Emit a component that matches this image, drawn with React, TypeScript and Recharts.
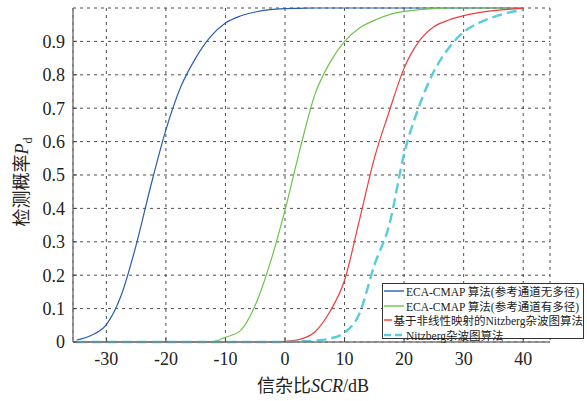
import React from 'react'
import { LineChart, Line, XAxis, YAxis, CartesianGrid, Legend } from 'recharts'

// 信杂比 SCR (dB)
const scr = [
  -35, -32.5, -30, -27.5, -25, -22.5, -20, -17.5, -15, -12.5, -10, -7.5, -5, -2.5, 0, 2.5,
  5, 7.5, 10, 12.5, 15, 17.5, 20, 22.5, 25, 27.5, 30, 32.5, 35, 37.5, 40,
]

// ECA-CMAP 算法(参考通道无多径)
const ecaNoMultipath = [
  0.006, 0.02, 0.052, 0.14, 0.29, 0.47, 0.635, 0.764, 0.85, 0.914, 0.955, 0.976, 0.988, 0.995, 0.998, 0.999,
  1, 1, 1, 1, 1, 1, 1, 1, 1, 1, 1, 1, 1, 1, 1,
]

// ECA-CMAP 算法(参考通道有多径)
const ecaMultipath = [
  0, 0, 0, 0, 0, 0, 0, 0, 0, 0, 0.014, 0.034, 0.11, 0.236, 0.395, 0.576,
  0.74, 0.835, 0.9, 0.94, 0.963, 0.98, 0.99, 0.995, 0.998, 1, 1, 1, 1, 1, 1,
]

// 基于非线性映射的Nitzberg杂波图算法
const nonlinearNitzberg = [
  0, 0, 0, 0, 0, 0, 0, 0, 0, 0, 0, 0, 0, 0, 0.002, 0.008,
  0.03, 0.09, 0.185, 0.365, 0.55, 0.69, 0.82, 0.9, 0.944, 0.964, 0.977, 0.986, 0.992, 0.996, 0.999,
]

// Nitzberg杂波图算法
const nitzberg = [
  0, 0, 0, 0, 0, 0, 0, 0, 0, 0, 0, 0, 0, 0, 0, 0.002,
  0.004, 0.01, 0.028, 0.085, 0.23, 0.35, 0.563, 0.705, 0.81, 0.88, 0.928, 0.955, 0.973, 0.986, 0.994,
]

const xTicks = [-30, -20, -10, 0, 10, 20, 30, 40]
const yTicks = [0, 0.1, 0.2, 0.3, 0.4, 0.5, 0.6, 0.7, 0.8, 0.9]

const SERIES = [
  { key: 'a', name: 'ECA-CMAP 算法(参考通道无多径)', color: '#2b5cb3', width: 1.2, dash: undefined },
  { key: 'b', name: 'ECA-CMAP 算法(参考通道有多径)', color: '#6cc44a', width: 1.2, dash: undefined },
  { key: 'c', name: '基于非线性映射的Nitzberg杂波图算法', color: '#f23a3a', width: 1.2, dash: undefined },
  { key: 'd', name: 'Nitzberg杂波图算法', color: '#56cdd9', width: 2.4, dash: '10 5' },
]

const data = scr.map((x, i) => ({
  x,
  a: ecaNoMultipath[i],
  b: ecaMultipath[i],
  c: nonlinearNitzberg[i],
  d: nitzberg[i],
}))

const FONT = 'Liberation Serif, Noto Sans CJK SC, serif'
const FRAME = '#7a7a7a'

const LegendBox = () => (
  <div
    style={{
      width: 202,
      height: 56,
      border: '1px solid #333',
      background: '#fff',
      fontFamily: FONT,
      fontSize: 11.5,
      color: '#222',
      boxSizing: 'border-box',
    }}
  >
    {SERIES.map((s) => (
      <div key={s.key} style={{ display: 'flex', alignItems: 'center', height: 14.5, whiteSpace: 'nowrap' }}>
        <svg width={22} height={8} style={{ marginRight: 1 }}>
          <line x1={1} y1={4} x2={21} y2={4} stroke={s.color} strokeWidth={s.dash ? 2.4 : 1.4} strokeDasharray={s.dash ? '7 4' : undefined} />
        </svg>
        <span>{s.name}</span>
      </div>
    ))}
  </div>
)

const noTick = () => <g />

export default function App() {
  return (
    <div style={{ position: 'absolute', left: 0, top: 0, width: 587, height: 401, background: '#fff', fontFamily: FONT }}>
      <LineChart
        width={587}
        height={401}
        data={data}
        margin={{ top: 8, right: 37, bottom: 29, left: 23 }}
      >
        <CartesianGrid stroke="#222" strokeWidth={0.8} strokeDasharray="3 4" />
        <XAxis
          dataKey="x"
          type="number"
          domain={[-35.6, 44.5]}
          ticks={xTicks}
          height={30}
          allowDataOverflow
          tick={{ fontSize: 18, fill: '#222', fontFamily: FONT, style: { fontFamily: FONT } }}
          tickSize={-4}
          tickMargin={14}
          axisLine={{ stroke: FRAME, strokeWidth: 1.5 }}
          tickLine={{ stroke: '#444' }}
          label={{
            content: () => (
              <text x={313} y={392} textAnchor="middle" fontSize={18} fill="#222" style={{ fontFamily: FONT }}>
                信杂比<tspan fontStyle="italic">SCR</tspan>/dB
              </text>
            ),
          }}
        />
        <XAxis
          xAxisId="top"
          dataKey="x"
          type="number"
          orientation="top"
          domain={[-35.6, 44.5]}
          ticks={xTicks}
          height={0}
          allowDataOverflow
          tick={noTick}
          tickSize={-4}
          axisLine={{ stroke: FRAME, strokeWidth: 1.5 }}
          tickLine={{ stroke: '#444' }}
        />
        <YAxis
          type="number"
          domain={[0, 1]}
          ticks={yTicks}
          width={50}
          tickFormatter={(v: number) => String(v)}
          tick={{ fontSize: 18, fill: '#222', fontFamily: FONT, style: { fontFamily: FONT } }}
          tickSize={-4}
          tickMargin={12}
          axisLine={{ stroke: FRAME, strokeWidth: 1.5 }}
          tickLine={{ stroke: '#444' }}
          label={{
            content: () => (
              <text
                x={0}
                y={0}
                transform="translate(28 182) rotate(-90)"
                textAnchor="middle"
                fontSize={18}
                fill="#222"
                style={{ fontFamily: FONT }}
              >
                检测概率<tspan fontStyle="italic">P</tspan>
                <tspan fontSize={12} dy={4}>d</tspan>
              </text>
            ),
          }}
        />
        <YAxis
          yAxisId="right"
          orientation="right"
          type="number"
          domain={[0, 1]}
          ticks={yTicks}
          width={0}
          tick={noTick}
          tickSize={-4}
          axisLine={{ stroke: FRAME, strokeWidth: 1.5 }}
          tickLine={{ stroke: '#444' }}
        />
        {SERIES.map((s) => (
          <Line
            key={s.key}
            dataKey={s.key}
            name={s.name}
            type="monotone"
            stroke={s.color}
            strokeWidth={s.width}
            strokeDasharray={s.dash}
            dot={false}
            activeDot={false}
            isAnimationActive={false}
          />
        ))}
        <Legend
          layout="vertical"
          align="center"
          verticalAlign="middle"
          content={() => <LegendBox />}
          wrapperStyle={{ position: 'absolute', left: 382, top: 283, width: 204, height: 58 }}
        />
      </LineChart>
    </div>
  )
}
